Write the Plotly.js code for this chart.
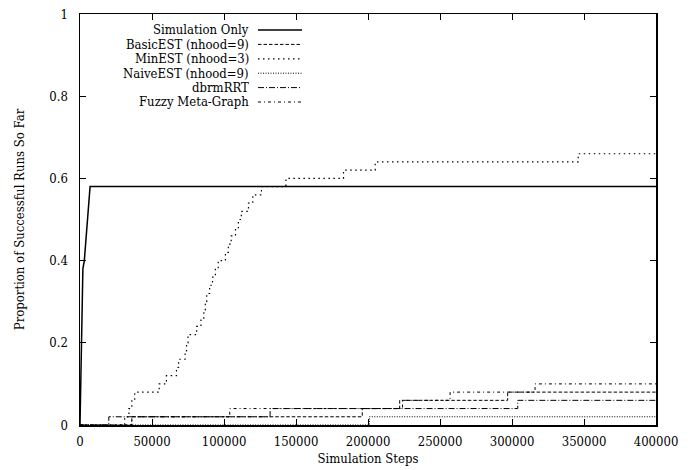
<!DOCTYPE html>
<html>
<head>
<meta charset="utf-8">
<script src="https://cdn.plot.ly/plotly-3.0.1.min.js"></script>
<style>html,body{margin:0;padding:0;background:#fff;}#chart{width:694px;height:470px;}</style>
</head>
<body>
<div id="chart"></div>
<script>
// ---- data ----
const seriesNames = ["Simulation Only", "BasicEST (nhood=9)", "MinEST (nhood=3)", "NaiveEST (nhood=9)", "dbrmRRT", "Fuzzy Meta-Graph"];

const simX = [0, 1500, 2000, 3000, 7000, 400000];
const simY = [0, 0.38, 0.38, 0.40, 0.58, 0.58];

const basicX = [0, 36000, 196000, 222000, 297000, 400000];
const basicY = [0, 0.02, 0.04, 0.06, 0.08, 0.08];

const minX = [0, 31000, 34000, 36000, 38000, 55000, 60000, 67000, 68500, 73000, 74000, 75000, 81000, 84000, 86000, 87000, 88000, 90000, 92000, 94000, 96000, 101000, 103000, 105000, 108000, 110000, 112000, 117000, 120000, 126000, 143000, 183000, 205000, 346000, 400000];
const minY = [0, 0.02, 0.04, 0.06, 0.08, 0.10, 0.12, 0.14, 0.16, 0.18, 0.20, 0.22, 0.24, 0.26, 0.28, 0.30, 0.32, 0.34, 0.36, 0.38, 0.40, 0.42, 0.44, 0.46, 0.48, 0.50, 0.52, 0.54, 0.56, 0.58, 0.60, 0.62, 0.64, 0.66, 0.66];

const naiveX = [0, 201000, 400000];
const naiveY = [0, 0.02, 0.02];

const dbrmX = [0, 20000, 132000, 304000, 400000];
const dbrmY = [0, 0.02, 0.04, 0.06, 0.06];

const fuzzyX = [0, 36000, 104000, 224000, 257000, 316000, 400000];
const fuzzyY = [0, 0.02, 0.04, 0.06, 0.08, 0.10, 0.10];

const xTickVals = [0, 50000, 100000, 150000, 200000, 250000, 300000, 350000, 400000];
const yTickVals = [0, 0.2, 0.4, 0.6, 0.8, 1];

// ---- styles ----
const dashes = ["solid", "3.5px,2px", "1.5px,3.5px", "1px,1.5px", "6px,2px,1px,2px", "3px,3px,1px,3px"];
const widths = [1.5, 1, 1.2, 1, 1, 1];
const xs = [simX, basicX, minX, naiveX, dbrmX, fuzzyX];
const ys = [simY, basicY, minY, naiveY, dbrmY, fuzzyY];

const traces = xs.map((x, i) => ({
  x: x, y: ys[i], type: "scatter", mode: "lines", name: seriesNames[i],
  line: {color: "#000", width: widths[i], dash: dashes[i], shape: i === 0 ? "linear" : "hv"},
  showlegend: false, hoverinfo: "skip"
}));

const fam = "DejaVu Serif Condensed, DejaVu Serif";
const font = {family: fam, size: 13, color: "#000"};
const keyFont = {family: fam, size: 13, color: "#000"};

// custom gnuplot-style key: right-aligned text, sample line to the right
const annotations = [];
const shapes = [];
const W = 694, H = 470, ml = 80, mr = 38, mt = 14, mb = 45;
const pw = W - ml - mr, ph = H - mt - mb;
const rowY0 = 30, rowDY = 14.4;
const textRight = 250, sampleL = 258, sampleR = 302;
seriesNames.forEach((n, i) => {
  const py = rowY0 + i * rowDY;
  const yp = 1 - (py - mt) / ph;
  annotations.push({
    xref: "paper", yref: "paper", x: (textRight - ml) / pw, y: yp,
    xanchor: "right", yanchor: "middle", text: n, showarrow: false, font: keyFont,
    borderpad: 0
  });
  shapes.push({
    type: "line", xref: "paper", yref: "paper",
    x0: (sampleL - ml) / pw, x1: (sampleR - ml) / pw, y0: yp, y1: yp,
    line: {color: "#000", width: widths[i], dash: dashes[i]}
  });
});

const layout = {
  width: W, height: H,
  margin: {l: ml, r: mr, t: mt, b: mb, pad: 0},
  paper_bgcolor: "#fff", plot_bgcolor: "#fff",
  font: font,
  showlegend: false,
  xaxis: {
    range: [0, 400000], tickvals: xTickVals, tickformat: "d",
    ticks: "inside", ticklen: 6, tickcolor: "#000", tickwidth: 1,
    showline: true, linecolor: "#000", linewidth: 1.5, mirror: "allticks",
    showgrid: false, zeroline: false, ticklabelstandoff: 4,
    tickfont: font,
    title: {text: "Simulation Steps", font: font, standoff: 6},
    automargin: false
  },
  yaxis: {
    range: [0, 1], tickvals: yTickVals,
    ticks: "inside", ticklen: 6, tickcolor: "#000", tickwidth: 1,
    showline: true, linecolor: "#000", linewidth: 1.5, mirror: "allticks",
    showgrid: false, zeroline: false, ticklabelstandoff: 8,
    tickfont: font,
    title: {text: "Proportion of Successful Runs So Far", font: font, standoff: 22},
    automargin: false
  },
  annotations: annotations,
  shapes: shapes
};

Plotly.newPlot("chart", traces, layout, {staticPlot: true, displayModeBar: false});
</script>
</body>
</html>
